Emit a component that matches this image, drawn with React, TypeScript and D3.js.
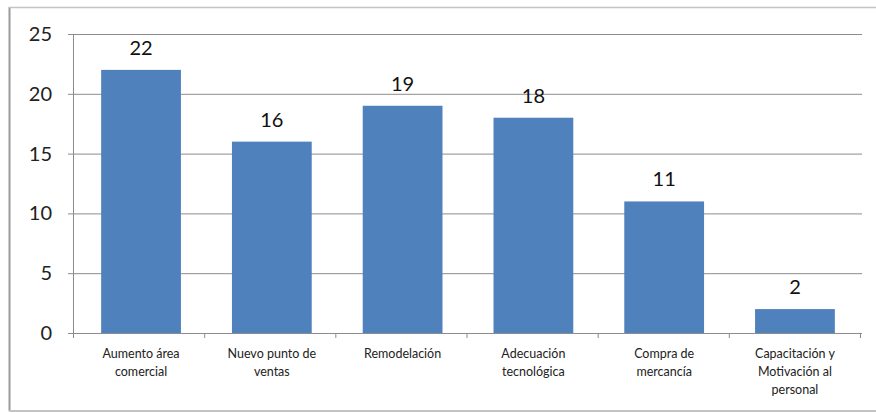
import React from "react";
import * as d3 from "d3";

const categories: string[][] = [
  ["Aumento área", "comercial"],
  ["Nuevo punto de", "ventas"],
  ["Remodelación"],
  ["Adecuación", "tecnológica"],
  ["Compra de", "mercancía"],
  ["Capacitación y", "Motivación al", "personal"],
];
const values: number[] = [22, 16, 19, 18, 11, 2];
const yTicks: number[] = [0, 5, 10, 15, 20, 25];

const W = 876;
const H = 413;
const plot = { left: 73, right: 860, top: 34, bottom: 333 };
const FONT = "Lato, 'Open Sans', sans-serif";

export default function App() {
  const ids = categories.map((_, i) => String(i));
  const x = d3
    .scaleBand<string>()
    .domain(ids)
    .range([plot.left + 2, plot.right + 1])
    .paddingInner(0.39)
    .paddingOuter(0.2);
  const step = (plot.right - plot.left) / categories.length;
  const y = d3.scaleLinear().domain([0, 25]).range([plot.bottom, plot.top]);

  return (
    <svg
      width={W}
      height={H}
      style={{ position: "absolute", left: 0, top: 0, background: "#fff" }}
    >
      {/* chart frame */}
      <line x1={9.5} x2={9.5} y1={7} y2={411} stroke="#9a9a9a" strokeWidth={2} />
      <line x1={9} x2={W} y1={7.5} y2={7.5} stroke="#c4c4c4" strokeWidth={1.5} />
      <line x1={9} x2={W} y1={411} y2={411} stroke="#c4c4c4" strokeWidth={2} />

      {/* horizontal gridlines and y labels */}
      {yTicks.map((t) => (
        <g key={t}>
          <line
            x1={plot.left - 5}
            x2={plot.right + 2}
            y1={y(t) + 0.5}
            y2={y(t) + 0.5}
            stroke="#8c8c8c"
            strokeWidth={1}
          />
          <text
            x={52}
            y={y(t)}
            dy="0.35em"
            textAnchor="end"
            fontFamily={FONT}
            fontSize={20}
            fill="#222"
          >
            {t}
          </text>
        </g>
      ))}

      {/* y axis line */}
      <line
        x1={plot.left + 0.5}
        x2={plot.left + 0.5}
        y1={plot.top}
        y2={plot.bottom}
        stroke="#8c8c8c"
      />

      {/* category ticks */}
      {d3.range(categories.length + 1).map((i) => (
        <line
          key={i}
          x1={plot.left + i * step + 0.5}
          x2={plot.left + i * step + 0.5}
          y1={plot.bottom}
          y2={plot.bottom + 5}
          stroke="#8c8c8c"
        />
      ))}

      {/* bars with value labels */}
      {values.map((v, i) => (
        <g key={i}>
          <rect
            x={x(ids[i])!}
            y={y(v)}
            width={x.bandwidth()}
            height={y(0) - y(v)}
            fill="#4f81bd"
          />
          <text
            x={x(ids[i])! + x.bandwidth() / 2}
            y={y(v) - 15}
            textAnchor="middle"
            fontFamily={FONT}
            fontSize={20}
            fill="#111"
          >
            {v}
          </text>
        </g>
      ))}

      {/* category labels */}
      {categories.map((lines, i) => (
        <text
          key={i}
          x={x(ids[i])! + x.bandwidth() / 2}
          y={358}
          textAnchor="middle"
          fontFamily={FONT}
          fontSize={12.5}
          fill="#222"
        >
          {lines.map((l, j) => (
            <tspan key={j} x={x(ids[i])! + x.bandwidth() / 2} dy={j === 0 ? 0 : 18}>
              {l}
            </tspan>
          ))}
        </text>
      ))}
    </svg>
  );
}
